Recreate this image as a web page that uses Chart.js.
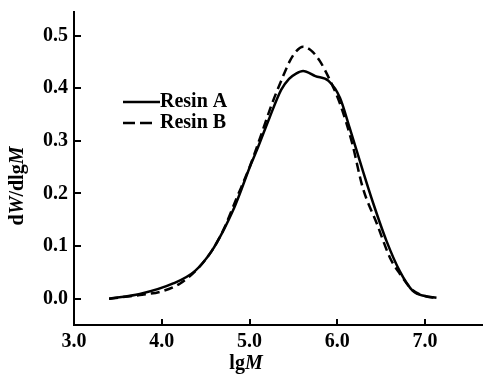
<!DOCTYPE html>
<html>
<head>
<meta charset="utf-8">
<script src="https://cdn.jsdelivr.net/npm/chart.js@4.4.0/dist/chart.umd.min.js"></script>
<style>
html,body{margin:0;padding:0;background:#fff;}
#wrap{width:483px;height:374px;position:relative;}
</style>
</head>
<body>
<div id="wrap"><canvas id="c"></canvas></div>
<script>
const xTicks = [3.0, 4.0, 5.0, 6.0, 7.0];
const yTicks = [0.0, 0.1, 0.2, 0.3, 0.4, 0.5];
const seriesNames = ['Resin A', 'Resin B'];
const resinA_x = [3.40, 3.75, 4.13, 4.38, 4.57, 4.70, 4.81, 4.89, 5.00, 5.08, 5.23, 5.36, 5.45, 5.53, 5.61, 5.75, 5.90, 6.03, 6.14, 6.28, 6.41, 6.56, 6.71, 6.86, 7.00, 7.13];
const resinA_y = [0.000, 0.009, 0.029, 0.053, 0.091, 0.129, 0.167, 0.200, 0.249, 0.281, 0.345, 0.397, 0.418, 0.428, 0.433, 0.423, 0.414, 0.382, 0.325, 0.249, 0.181, 0.110, 0.053, 0.015, 0.005, 0.002];
const resinB_x = [3.40, 3.75, 4.00, 4.21, 4.41, 4.57, 4.70, 4.85, 5.00, 5.10, 5.25, 5.36, 5.46, 5.53, 5.61, 5.70, 5.80, 5.92, 6.03, 6.17, 6.29, 6.45, 6.60, 6.71, 6.86, 7.00, 7.10];
const resinB_y = [0.000, 0.007, 0.014, 0.029, 0.057, 0.091, 0.130, 0.190, 0.250, 0.296, 0.368, 0.414, 0.452, 0.470, 0.479, 0.472, 0.452, 0.414, 0.371, 0.295, 0.211, 0.143, 0.078, 0.048, 0.016, 0.005, 0.002];
const xTitle = ['lg', 'M'];
const yTitle = ['d', 'W', '/dlg', 'M'];

const FONT = '"Liberation Serif", "DejaVu Serif", serif';
const toPts = (xs, ys) => xs.map((x, i) => ({x: x, y: ys[i]}));

const decor = {
  id: 'decor',
  afterDraw(chart) {
    const ctx = chart.ctx;
    const xs = chart.scales.x, ys = chart.scales.y;
    const area = chart.chartArea;
    ctx.save();
    ctx.strokeStyle = '#000';
    ctx.lineWidth = 2;
    xTicks.forEach(v => {
      const px = Math.round(xs.getPixelForValue(v));
      ctx.beginPath(); ctx.moveTo(px, area.bottom); ctx.lineTo(px, area.bottom - 6); ctx.stroke();
    });
    yTicks.forEach(v => {
      const py = Math.round(ys.getPixelForValue(v));
      ctx.beginPath(); ctx.moveTo(area.left, py); ctx.lineTo(area.left + 7, py); ctx.stroke();
    });
    // legend
    ctx.lineWidth = 2.5;
    const ly = [102, 123];
    ctx.beginPath(); ctx.setLineDash([]); ctx.moveTo(123, ly[0]); ctx.lineTo(160, ly[0]); ctx.stroke();
    ctx.beginPath(); ctx.setLineDash([12, 5]); ctx.moveTo(123, ly[1]); ctx.lineTo(155, ly[1]); ctx.stroke();
    ctx.setLineDash([]);
    ctx.fillStyle = '#000';
    ctx.font = 'bold 20px ' + FONT;
    ctx.textBaseline = 'middle';
    ctx.textAlign = 'left';
    ctx.fillText(seriesNames[0], 160, ly[0]);
    ctx.fillText(seriesNames[1], 160, ly[1]);
    const f1 = 'bold 20px ' + FONT, f2 = 'italic bold 20px ' + FONT;
    const drawParts = (parts, cxCenter, cy) => {
      let tw = 0;
      parts.forEach((p, i) => { ctx.font = i % 2 ? f2 : f1; tw += ctx.measureText(p).width; });
      let cx = cxCenter - tw / 2;
      parts.forEach((p, i) => { ctx.font = i % 2 ? f2 : f1; ctx.fillText(p, cx, cy); cx += ctx.measureText(p).width; });
    };
    drawParts(xTitle, 246, 364);
    ctx.translate(18, 186);
    ctx.rotate(-Math.PI / 2);
    drawParts(yTitle, 0, 0);
    ctx.restore();
  }
};

new Chart(document.getElementById('c'), {
  type: 'line',
  data: {
    datasets: [
      {label: seriesNames[0], data: toPts(resinA_x, resinA_y), borderColor: '#000', borderWidth: 2.5, pointRadius: 0, cubicInterpolationMode: 'monotone', fill: false},
      {label: seriesNames[1], data: toPts(resinB_x, resinB_y), borderColor: '#000', borderWidth: 2.5, borderDash: [9, 5], pointRadius: 0, cubicInterpolationMode: 'monotone', fill: false}
    ]
  },
  options: {
    responsive: true,
    maintainAspectRatio: false,
    animation: false,
    layout: {padding: {top: 12, right: 0, left: 0, bottom: 0}},
    plugins: {legend: {display: false}, tooltip: {enabled: false}},
    scales: {
      x: {
        type: 'linear', min: 3.0, max: 7.66,
        afterBuildTicks: s => { s.ticks = xTicks.map(v => ({value: v})); },
        afterFit: s => { s.height = 49; s.paddingLeft = 0; s.paddingRight = 0; },
        grid: {display: false, drawTicks: false},
        border: {display: true, color: '#000', width: 2},
        ticks: {color: '#000', padding: 5, maxRotation: 0, font: {family: FONT, size: 20, weight: 'bold'}, callback: v => v.toFixed(1)}
      },
      y: {
        type: 'linear', min: -0.05, max: 0.545,
        afterBuildTicks: s => { s.ticks = yTicks.map(v => ({value: v})); },
        afterFit: s => { s.width = 74; s.paddingTop = 0; s.paddingBottom = 0; },
        grid: {display: false, drawTicks: false},
        border: {display: true, color: '#000', width: 2},
        ticks: {color: '#000', padding: 6, font: {family: FONT, size: 20, weight: 'bold'}, callback: v => v.toFixed(1)}
      }
    }
  },
  plugins: [decor]
});
</script>
</body>
</html>
